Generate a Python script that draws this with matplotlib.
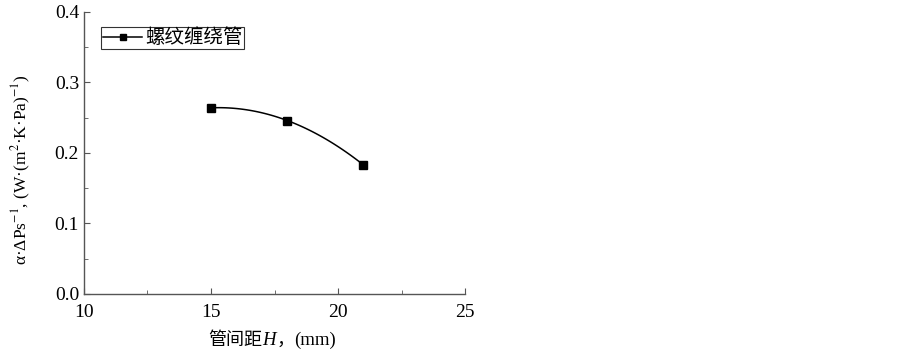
import numpy as np
import matplotlib
matplotlib.use("Agg")
import matplotlib.pyplot as plt
from matplotlib.ticker import MultipleLocator, FormatStrFormatter

# data
spacing_mm = [15, 18, 21]
ratio = [0.264, 0.246, 0.183]
series_name = "螺纹缠绕管"

plt.rcParams["font.family"] = ["Liberation Serif", "Noto Sans CJK SC"]
plt.rcParams["mathtext.fontset"] = "stix"

fig = plt.figure(figsize=(9.03, 3.52), dpi=100)
ax = fig.add_axes([0.093, 0.165, 0.422, 0.801])

# smooth curve through the points (Origin-style spline)
coef = np.polyfit(spacing_mm, ratio, 2)
xs = np.linspace(spacing_mm[0], spacing_mm[-1], 100)
ax.plot(xs, np.polyval(coef, xs), color="black", lw=1.1)
ax.plot(spacing_mm, ratio, "s", color="black", ms=6)
# legend handle
ax.plot([], [], "-s", color="black", lw=1.1, ms=5, label=series_name)

ax.set_xlim(10, 25)
ax.set_ylim(0, 0.4)
ax.xaxis.set_major_locator(MultipleLocator(5))
ax.xaxis.set_minor_locator(MultipleLocator(2.5))
ax.yaxis.set_major_locator(MultipleLocator(0.1))
ax.yaxis.set_minor_locator(MultipleLocator(0.05))
ax.yaxis.set_major_formatter(FormatStrFormatter("%.1f"))

for s in ["top", "right"]:
    ax.spines[s].set_visible(False)
for s in ["left", "bottom"]:
    ax.spines[s].set_color("#555555")
    ax.spines[s].set_linewidth(1.0)
ax.tick_params(which="both", direction="in", colors="#555555", labelcolor="black",
               labelsize=14)
ax.tick_params(which="major", length=4)
ax.tick_params(which="minor", length=3)
ax.tick_params(axis="x", pad=7)

# x label: CJK text + italic H + rest, chained so fonts can differ
t1 = ax.annotate("管间距", xy=(0.5, 0), xycoords="axes fraction",
                 xytext=(-48, -37), textcoords="offset points",
                 fontsize=13, family="Noto Sans CJK SC", va="baseline", ha="left")
t2 = ax.annotate("H", xy=(1, 0), xycoords=t1, xytext=(0.5, 0),
                 textcoords="offset points", fontsize=13.5, style="italic",
                 family="Liberation Serif", va="bottom", ha="left")
t3 = ax.annotate("，", xy=(1, 0), xycoords=t2, xytext=(0, 0),
                 textcoords="offset points", fontsize=13,
                 family="Noto Sans CJK SC", va="bottom", ha="left")
ax.annotate("(mm)", xy=(1, 0), xycoords=t3, xytext=(0, 0),
            textcoords="offset points", fontsize=13.5,
            family="Liberation Serif", va="bottom", ha="left")

ax.set_ylabel(r"α·ΔPs$^{-1}$, (W·(m$^{2}$·K·Pa)$^{-1}$)", fontsize=12.5)
ax.yaxis.set_label_coords(-0.135, 0.44)

leg = ax.legend(loc="upper left", bbox_to_anchor=(0.045, 0.948), fontsize=14,
                frameon=True, fancybox=False, borderpad=0.1, handlelength=2.0,
                handletextpad=0.15, borderaxespad=0)
leg.get_frame().set_edgecolor("black")
leg.get_frame().set_linewidth(0.8)

fig.savefig("out.png", dpi=100)
